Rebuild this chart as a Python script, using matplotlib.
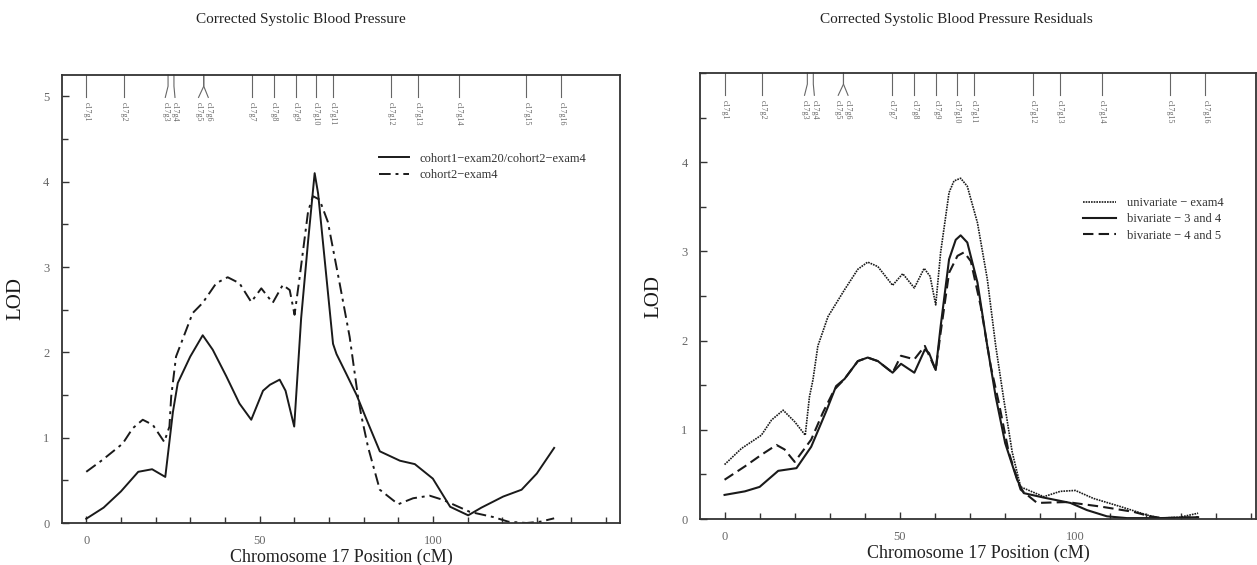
import numpy as np
import matplotlib
matplotlib.use("Agg")
import matplotlib.pyplot as plt
from matplotlib.ticker import MultipleLocator

plt.rcParams['font.family'] = ['Liberation Serif', 'DejaVu Serif']

# markers on chromosome 17 (cM)
marker_names = ['c17g%d' % i for i in range(1, 17)]
marker_pos = [0, 10.8, 23.6, 25.3, 33.9, 33.9, 47.8, 54.1, 60.4, 66.2,
              71.1, 87.9, 95.6, 107.5, 127.0, 137.1]

# left panel: corrected SBP
pos_a = [0, 5, 10, 15, 19, 22.8, 25, 26.4, 30, 33.6, 36.5, 40.4, 44.2, 47.6,
         49.5, 51, 53, 55.8, 57.5, 60, 62, 64, 65.9, 66.9, 69, 71.2, 72.2, 75,
         78, 81, 84.7, 90.5, 94.8, 100, 105, 110.2, 114, 117.4, 120.3, 125.6,
         130, 135]
lod_a = [0.05, 0.18, 0.37, 0.60, 0.63, 0.54, 1.30, 1.64, 1.95, 2.20, 2.03,
         1.72, 1.40, 1.21, 1.40, 1.55, 1.62, 1.68, 1.55, 1.13, 2.40, 3.30,
         4.10, 3.86, 3.00, 2.10, 1.98, 1.75, 1.50, 1.20, 0.84, 0.73, 0.69,
         0.52, 0.19, 0.09, 0.18, 0.25, 0.31, 0.39, 0.58, 0.88]

pos_b = [0, 4.7, 10.5, 13.4, 16.3, 19.2, 22.5, 24, 24.5, 25.9, 30.7, 33.6,
         37.5, 40.8, 44.2, 47.6, 50.5, 53.8, 56.7, 58.7, 60.1, 61.6, 64, 65.4,
         67.3, 69.7, 73.1, 76, 78.4, 79.4, 81.3, 84.7, 90, 94.3, 99.1, 103,
         110.7, 117.4, 121.8, 127, 131, 135]
lod_b = [0.60, 0.74, 0.93, 1.11, 1.21, 1.15, 0.95, 1.13, 1.48, 1.95, 2.46,
         2.58, 2.81, 2.88, 2.81, 2.59, 2.75, 2.58, 2.79, 2.73, 2.44, 2.89,
         3.65, 3.83, 3.79, 3.53, 2.81, 2.18, 1.48, 1.25, 0.89, 0.39, 0.22,
         0.29, 0.32, 0.27, 0.13, 0.07, 0.015, 0.0, 0.015, 0.055]

# right panel: residuals
pos_u = [0, 4.8, 10.5, 13.4, 16.7, 20, 23, 24.2, 25.2, 26.6, 29.5, 34.2, 38,
         40.8, 43.7, 47.9, 50.8, 54.1, 56.9, 58.6, 60.2, 61.6, 64, 65.4, 67.3,
         69.2, 72.1, 74.9, 77.3, 79.6, 82, 84.4, 91, 95.7, 100, 105.2, 112.8,
         120.4, 124.1, 129.8, 135]
lod_u = [0.61, 0.79, 0.94, 1.11, 1.22, 1.09, 0.94, 1.37, 1.56, 1.94, 2.27,
         2.57, 2.80, 2.88, 2.83, 2.62, 2.75, 2.59, 2.81, 2.72, 2.40, 2.99,
         3.66, 3.79, 3.82, 3.73, 3.32, 2.69, 1.94, 1.34, 0.75, 0.36, 0.25,
         0.31, 0.32, 0.23, 0.14, 0.045, 0.01, 0.02, 0.065]

pos_34 = [0, 5.8, 10, 15.3, 20.5, 24.7, 29, 31.8, 34.2, 38, 40.8, 43.7, 47.9,
          50.3, 54.1, 57.1, 58.3, 60.2, 61.6, 64, 65.9, 67.3, 69.2, 72.1,
          74.9, 77.3, 80, 83.4, 85.3, 91, 98.6, 103.3, 109, 114.7, 124, 135]
lod_34 = [0.27, 0.31, 0.36, 0.54, 0.57, 0.81, 1.21, 1.49, 1.57, 1.77, 1.81,
          1.77, 1.64, 1.74, 1.64, 1.90, 1.86, 1.67, 2.16, 2.91, 3.13, 3.18,
          3.10, 2.65, 1.94, 1.37, 0.85, 0.44, 0.29, 0.24, 0.18, 0.10, 0.03,
          0.01, 0.01, 0.02]

pos_45 = [0, 5.8, 10.5, 14.8, 17.1, 20, 24.7, 28, 31.3, 34.2, 38, 40.8, 43.7,
          47.9, 50.3, 54.1, 57.1, 60.2, 61.6, 64, 66.4, 68.3, 70.2, 73, 75.9,
          78.2, 81, 84.4, 89.1, 97.6, 107.1, 116.6, 121.3, 125, 135]
lod_45 = [0.44, 0.59, 0.72, 0.83, 0.78, 0.64, 0.89, 1.19, 1.45, 1.57, 1.77,
          1.81, 1.77, 1.64, 1.83, 1.79, 1.94, 1.67, 2.09, 2.76, 2.95, 2.99,
          2.89, 2.39, 1.71, 1.30, 0.75, 0.33, 0.18, 0.19, 0.14, 0.08, 0.03,
          0.01, 0.02]

# label shifts for crowded markers (cM)
label_shift = {'c17g3': -0.8, 'c17g4': 0.3, 'c17g5': -1.5, 'c17g6': 1.3}

ink = '#1a1a1a'
gray = '#666666'


def draw_markers(ax):
    tr = ax.get_xaxis_transform()
    for name, x in zip(marker_names, marker_pos):
        dx = label_shift.get(name, 0)
        if dx:
            ax.plot([x, x, x + dx], [1.0, 0.975, 0.95], color=gray, lw=0.8,
                    transform=tr, clip_on=False)
        else:
            ax.plot([x, x], [1.0, 0.95], color=gray, lw=0.8,
                    transform=tr, clip_on=False)
        ax.text(x + dx, 0.94, name, rotation=-90, ha='center', va='top',
                fontsize=5.8, color=gray, transform=tr)


def style_axes(ax, xmax, ymax, yticks):
    ax.set_xlim(-7, xmax)
    ax.set_ylim(0, ymax)
    ax.set_xticks([0, 50, 100])
    ax.xaxis.set_minor_locator(MultipleLocator(10))
    ax.set_yticks(yticks)
    ax.yaxis.set_minor_locator(MultipleLocator(0.5))
    ax.tick_params(which='both', direction='in', top=False, right=False,
                   colors='#333333', labelcolor=gray, labelsize=9, pad=9)
    ax.tick_params(which='major', length=5, width=1)
    ax.tick_params(which='minor', length=4, width=1)
    for s in ax.spines.values():
        s.set_color('#333333')
        s.set_linewidth(1.3)
    ax.set_xlabel('Chromosome 17 Position (cM)', fontsize=13, color='#222222',
                  labelpad=1)
    ax.set_ylabel('LOD', fontsize=15, color='#1a1a1a', labelpad=13)


fig = plt.figure(figsize=(12.57, 5.65), dpi=100)
ax1 = fig.add_axes([62 / 1257, 1 - 523 / 565, 558 / 1257, 448 / 565])
ax2 = fig.add_axes([700 / 1257, 1 - 519 / 565, 556 / 1257, 446 / 565])

ax1.plot(pos_a, lod_a, color=ink, lw=1.4, ls='-',
         label='cohort1\u2212exam20/cohort2\u2212exam4')
ax1.plot(pos_b, lod_b, color=ink, lw=1.4, ls=(0, (6, 2.5, 1.5, 2.5)),
         label='cohort2\u2212exam4')
style_axes(ax1, 154, 5.25, [0, 1, 2, 3, 4, 5])
draw_markers(ax1)
ax1.legend(loc='upper left', bbox_to_anchor=(0.56, 0.838), frameon=False,
           fontsize=9, handlelength=2.4, handletextpad=0.8, labelspacing=0.35,
           borderaxespad=0, labelcolor='#333333')

ax2.plot(pos_u, lod_u, color=ink, lw=1.2, ls=(0, (1, 0.6)),
         label='univariate \u2212 exam4')
ax2.plot(pos_34, lod_34, color=ink, lw=1.5, ls='-',
         label='bivariate \u2212 3 and 4')
ax2.plot(pos_45, lod_45, color=ink, lw=1.5, ls=(0, (5, 2.5)),
         label='bivariate \u2212 4 and 5')
style_axes(ax2, 151.5, 5.0, [0, 1, 2, 3, 4])
draw_markers(ax2)
ax2.legend(loc='upper left', bbox_to_anchor=(0.68, 0.733), frameon=False,
           fontsize=9, handlelength=2.6, handletextpad=0.9, labelspacing=0.35,
           borderaxespad=0, labelcolor='#333333')

fig.text(301 / 1257, 1 - 19 / 565, 'Corrected Systolic Blood Pressure',
         ha='center', va='center', fontsize=11, color='#222222')
fig.text(956 / 1257, 1 - 19 / 565, 'Corrected Systolic Blood Pressure Residuals',
         ha='center', va='center', fontsize=11, color='#222222')

fig.savefig('out.png', dpi=100, facecolor='white')
